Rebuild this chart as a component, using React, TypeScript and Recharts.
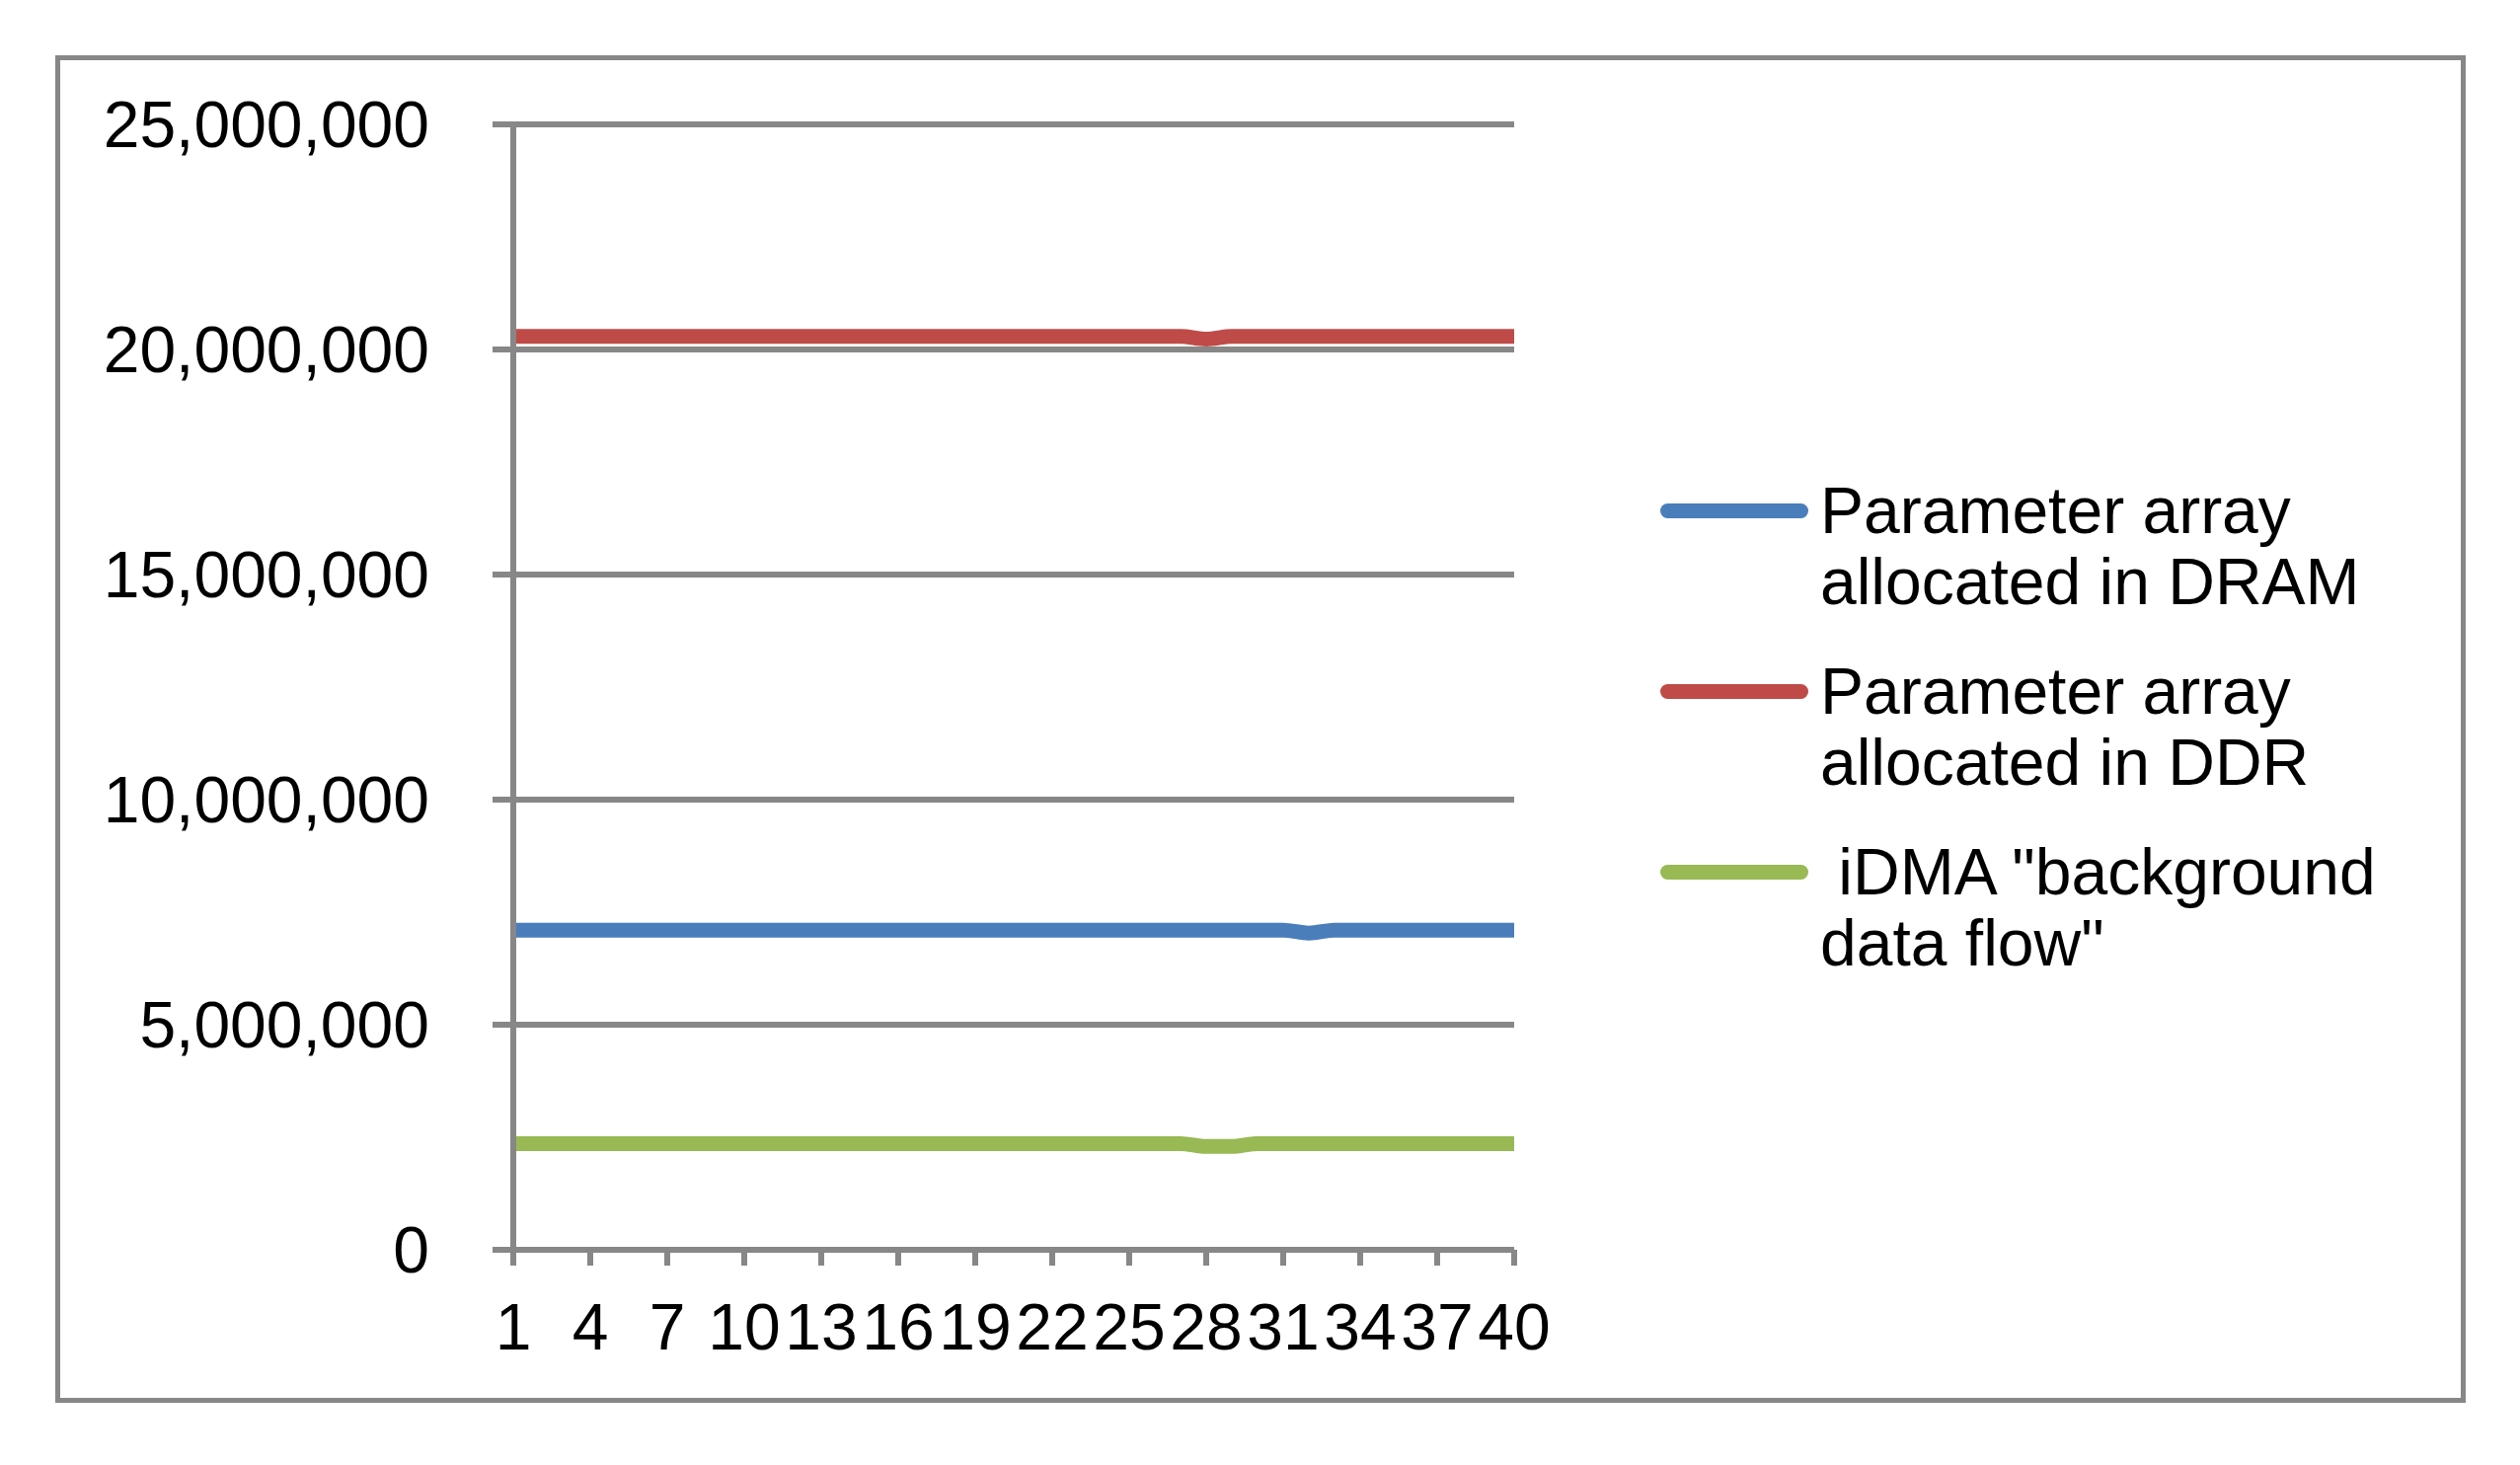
import React from "react";
import { LineChart, Line, XAxis, YAxis, CartesianGrid, Legend } from "recharts";

const categories = [
  "1", "2", "3", "4", "5", "6", "7", "8", "9", "10",
  "11", "12", "13", "14", "15", "16", "17", "18", "19", "20",
  "21", "22", "23", "24", "25", "26", "27", "28", "29", "30",
  "31", "32", "33", "34", "35", "36", "37", "38", "39", "40",
];

const dramValues = [
  7100000, 7100000, 7100000, 7100000, 7100000, 7100000, 7100000, 7100000, 7100000, 7100000,
  7100000, 7100000, 7100000, 7100000, 7100000, 7100000, 7100000, 7100000, 7100000, 7100000,
  7100000, 7100000, 7100000, 7100000, 7100000, 7100000, 7100000, 7100000, 7100000, 7100000,
  7100000, 7035000, 7100000, 7100000, 7100000, 7100000, 7100000, 7100000, 7100000, 7100000,
];

const ddrValues = [
  20290000, 20290000, 20290000, 20290000, 20290000, 20290000, 20290000, 20290000, 20290000, 20290000,
  20290000, 20290000, 20290000, 20290000, 20290000, 20290000, 20290000, 20290000, 20290000, 20290000,
  20290000, 20290000, 20290000, 20290000, 20290000, 20290000, 20290000, 20230000, 20290000, 20290000,
  20290000, 20290000, 20290000, 20290000, 20290000, 20290000, 20290000, 20290000, 20290000, 20290000,
];

const idmaValues = [
  2360000, 2360000, 2360000, 2360000, 2360000, 2360000, 2360000, 2360000, 2360000, 2360000,
  2360000, 2360000, 2360000, 2360000, 2360000, 2360000, 2360000, 2360000, 2360000, 2360000,
  2360000, 2360000, 2360000, 2360000, 2360000, 2360000, 2360000, 2295000, 2295000, 2360000,
  2360000, 2360000, 2360000, 2360000, 2360000, 2360000, 2360000, 2360000, 2360000, 2360000,
];

const yTicks = [0, 5000000, 10000000, 15000000, 20000000, 25000000];

const seriesNames = [
  "Parameter array\nallocated in DRAM",
  "Parameter array\nallocated in DDR",
  " iDMA \"background\ndata flow\"",
];

const seriesColors = ["#4A7EBB", "#BE4B48", "#98B954"];

const data = categories.map((c, i) => ({
  cat: c,
  dram: dramValues[i],
  ddr: ddrValues[i],
  idma: idmaValues[i],
}));

const FONT = "'Liberation Sans', Arial, sans-serif";
const GREY = "#878787";

const renderLegend = (props: any) => {
  const payload = [...(props.payload || [])].sort(
    (a: any, b: any) => seriesNames.indexOf(a.value) - seriesNames.indexOf(b.value)
  );
  return (
    <div style={{ fontFamily: FONT, fontSize: 66, lineHeight: "72px", color: "#000" }}>
      {payload.map((p: any, i: number) => (
        <div key={i} style={{ display: "flex", flexDirection: "row", marginBottom: 39 }}>
          <div
            style={{
              width: 150,
              height: 15,
              borderRadius: 7.5,
              background: p.color,
              marginTop: 29,
              marginRight: 12,
              flexShrink: 0,
            }}
          />
          <div style={{ whiteSpace: "pre" }}>{p.value}</div>
        </div>
      ))}
    </div>
  );
};

export default function App() {
  return (
    <div style={{ position: "absolute", left: 0, top: 0, width: 2553, height: 1484, background: "#fff" }}>
      <div
        style={{
          position: "absolute",
          left: 56,
          top: 56,
          width: 2442,
          height: 1365,
          border: `5px solid ${GREY}`,
          boxSizing: "border-box",
          pointerEvents: "none",
        }}
      />
      <div style={{ position: "absolute", left: 0, top: 0 }}>
        <LineChart
          width={2553}
          height={1484}
          data={data}
          margin={{ top: 126, right: 1019, bottom: 0, left: 0 }}
        >
          <CartesianGrid horizontal={true} vertical={false} stroke={GREY} strokeWidth={6} />
          <XAxis
            dataKey="cat"
            interval={2}
            height={218}
            tickSize={16}
            tickMargin={38}
            axisLine={{ stroke: GREY, strokeWidth: 6 }}
            tickLine={{ stroke: GREY, strokeWidth: 6 }}
            tick={{ fill: "#000", fontSize: 66, fontFamily: FONT }}
          />
          <YAxis
            width={520}
            domain={[0, 25000000]}
            ticks={yTicks}
            interval={0}
            tickSize={21}
            tickMargin={64}
            tickFormatter={(v: number) => v.toLocaleString("en-US")}
            axisLine={{ stroke: GREY, strokeWidth: 6 }}
            tickLine={{ stroke: GREY, strokeWidth: 6 }}
            tick={{ fill: "#000", fontSize: 66, fontFamily: FONT }}
          />
          <Legend
            layout="vertical"
            verticalAlign="middle"
            align="center"
            content={renderLegend}
            wrapperStyle={{ left: 1682, top: 481, width: 820, height: "auto" }}
          />
          <Line
            type="monotone"
            dataKey="dram"
            name={seriesNames[0]}
            stroke={seriesColors[0]}
            strokeWidth={15}
            dot={false}
            activeDot={false}
            isAnimationActive={false}
          />
          <Line
            type="monotone"
            dataKey="ddr"
            name={seriesNames[1]}
            stroke={seriesColors[1]}
            strokeWidth={15}
            dot={false}
            activeDot={false}
            isAnimationActive={false}
          />
          <Line
            type="monotone"
            dataKey="idma"
            name={seriesNames[2]}
            stroke={seriesColors[2]}
            strokeWidth={15}
            dot={false}
            activeDot={false}
            isAnimationActive={false}
          />
        </LineChart>
      </div>
    </div>
  );
}
